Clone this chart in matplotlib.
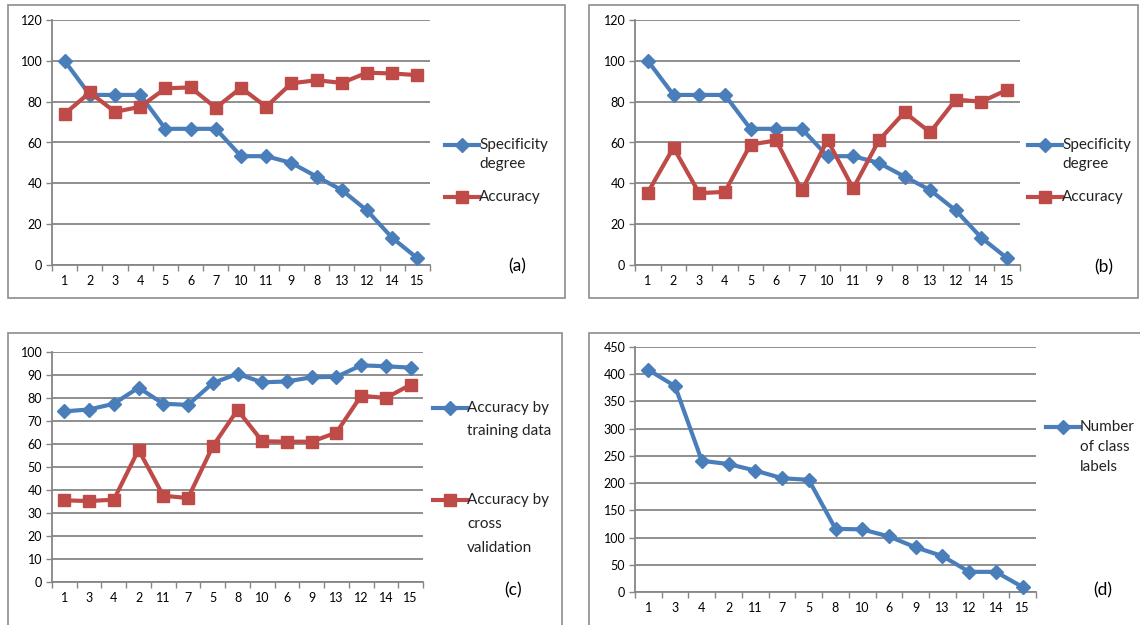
import matplotlib
matplotlib.use("Agg")
import matplotlib.pyplot as plt
from matplotlib.lines import Line2D
from matplotlib.patches import Rectangle

plt.rcParams['font.family'] = ['Lato', 'DejaVu Sans']

# ---- data ----
order_ab = ['1', '2', '3', '4', '5', '6', '7', '10', '11', '9', '8', '13', '12', '14', '15']
specificity = [100, 83.3, 83.3, 83.3, 66.7, 66.7, 66.7, 53.3, 53.3, 50, 43.3, 36.7, 26.7, 13.3, 3.3]
acc_train_ab = [74, 84.5, 75, 77.5, 86.5, 87, 77, 86.8, 77.5, 89, 90.5, 89.2, 94.2, 93.8, 93]
acc_cv_ab = [35.5, 57.5, 35.2, 35.8, 59, 61, 36.5, 61.2, 37.5, 61, 74.8, 65, 81, 80, 85.8]

order_cd = ['1', '3', '4', '2', '11', '7', '5', '8', '10', '6', '9', '13', '12', '14', '15']
acc_train_c = [74.2, 75, 77.5, 84.5, 77.5, 77, 86.5, 90.5, 86.8, 87.2, 89, 89.2, 94.2, 93.8, 93.2]
acc_cv_c = [35.5, 35.2, 35.8, 57.5, 37.5, 36.5, 59, 74.8, 61.2, 61, 61, 65, 81, 80, 85.8]
n_labels = [408, 378, 241, 235, 223, 209, 206, 116, 115, 102, 82, 66, 37, 37, 9]

BLUE = '#4A7EBB'
RED = '#BE4B48'
GRID = '#868686'

W, H = 1140, 625
fig = plt.figure(figsize=(W / 100, H / 100), dpi=100)


def px_axes(left, top, right, bottom):
    return fig.add_axes([left / W, 1 - bottom / H, (right - left) / W, (bottom - top) / H])


def frame(left, top, right, bottom):
    fig.add_artist(Rectangle((left / W, 1 - bottom / H), (right - left) / W, (bottom - top) / H,
                             transform=fig.transFigure, fill=False, ec='#8c8c8c', lw=1.2))


def style(ax, labels, ymax, ystep):
    n = len(labels)
    ax.set_xlim(-0.5, n - 0.5)
    ax.set_ylim(0, ymax)
    ax.set_yticks(range(0, ymax + 1, ystep))
    ax.set_xticks(range(n))
    ax.set_xticklabels(labels)
    # excel style: tick marks between categories
    ax.set_xticks([i - 0.5 for i in range(n + 1)], minor=True)
    ax.tick_params(axis='x', which='major', length=0, pad=7, labelsize=9)
    ax.tick_params(axis='x', which='minor', length=4, color=GRID, width=1)
    ax.tick_params(axis='y', length=4, color=GRID, width=1, labelsize=9, pad=3)
    ax.grid(axis='y', color=GRID, lw=1.3)
    ax.set_axisbelow(True)
    for s in ['top', 'right']:
        ax.spines[s].set_visible(False)
    for s in ['left', 'bottom']:
        ax.spines[s].set_color(GRID)
        ax.spines[s].set_linewidth(1.3)


def key(x, y, color, marker, ms, lines, step=19):
    # legend entry: line with marker, text aligned on its first line
    fig.add_artist(Line2D([x / W, (x + 34) / W], [1 - y / H, 1 - y / H], color=color, lw=3,
                          transform=fig.transFigure))
    fig.add_artist(Line2D([(x + 17) / W], [1 - y / H], color=color, marker=marker, ms=ms,
                          transform=fig.transFigure, lw=0))
    for i, t in enumerate(lines):
        fig.text((x + 34) / W, 1 - (y + i * step) / H, t, fontsize=11, va='center', ha='left',
                 color='#222222')


def plot_series(ax, vals, color, marker, ms):
    ax.plot(range(len(vals)), vals, color=color, lw=3, marker=marker, ms=ms, clip_on=False,
            zorder=3)


# (a)
frame(8, 5, 565, 298)
ax = px_axes(52, 20, 430, 265)
style(ax, order_ab, 120, 20)
plot_series(ax, specificity, BLUE, 'D', 7)
plot_series(ax, acc_train_ab, RED, 's', 9)
key(445, 145, BLUE, 'D', 7, ['Specificity', 'degree'])
key(445, 197, RED, 's', 9, ['Accuracy'])
fig.text(517 / W, 1 - 266 / H, '(a)', fontsize=12.5, ha='center', va='center')

# (b)
frame(589, 5, 1138, 298)
ax = px_axes(635, 20, 1020, 265)
style(ax, order_ab, 120, 20)
plot_series(ax, specificity, BLUE, 'D', 7)
plot_series(ax, acc_cv_ab, RED, 's', 9)
key(1028, 145, BLUE, 'D', 7, ['Specificity', 'degree'])
key(1028, 197, RED, 's', 9, ['Accuracy'])
fig.text(1104 / W, 1 - 267 / H, '(b)', fontsize=12.5, ha='center', va='center')

# (c)
frame(8, 333, 562, 626)
ax = px_axes(52, 352, 423, 582)
style(ax, order_cd, 100, 10)
plot_series(ax, acc_train_c, BLUE, 'D', 7)
plot_series(ax, acc_cv_c, RED, 's', 9)
key(433, 408, BLUE, 'D', 7, ['Accuracy by', 'training data'], step=23)
key(433, 500, RED, 's', 9, ['Accuracy by', 'cross', 'validation'], step=24)
fig.text(513 / W, 1 - 590 / H, '(c)', fontsize=12.5, ha='center', va='center')

# (d)
frame(589, 333, 1141, 626)
ax = px_axes(635, 347, 1036, 592)
style(ax, order_cd, 450, 50)
plot_series(ax, n_labels, BLUE, 'D', 7)
key(1046, 427, BLUE, 'D', 7, ['Number', 'of class', 'labels'], step=20)
fig.text(1103 / W, 1 - 590 / H, '(d)', fontsize=12.5, ha='center', va='center')

fig.savefig('out.png', dpi=100)
